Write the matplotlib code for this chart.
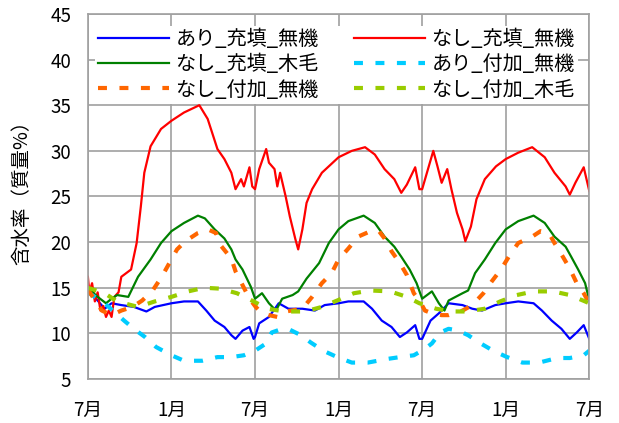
import matplotlib.pyplot as plt

plt.rcParams['font.family'] = ['Noto Sans CJK JP', 'DejaVu Sans']

# months elapsed since the first July, read per series
blue_m = [0, 0.7, 1.2, 1.7, 2.4, 3.3, 4.2, 4.8, 6, 6.9, 7.9, 8.5, 9.1, 9.8, 10.3, 10.6, 11.1, 11.6, 11.9, 12.0,
          12.3, 13.0, 13.7, 14.4, 15.4, 16.3, 17.0, 18.0, 18.7, 19.8, 20.4, 21.1, 21.8, 22.4, 22.9, 23.5, 23.8,
          24.0, 24.6, 25.2, 25.9, 26.9, 27.6, 28.3, 29.25, 30, 30.9, 32, 32.6, 33.3, 34, 34.6, 35.1, 35.6, 36]
blue_v = [14.7, 13.6, 12.7, 13.3, 13.1, 12.9, 12.4, 12.9, 13.3, 13.5, 13.5, 12.5, 11.4, 10.7, 9.8, 9.4, 10.3, 10.7, 9.4, 9.6,
          11.1, 11.8, 13.3, 12.7, 12.7, 12.5, 13.1, 13.3, 13.5, 13.5, 12.7, 11.4, 10.7, 9.6, 10.1, 10.9, 9.4,
          9.4, 11.4, 12.2, 13.3, 13.1, 12.7, 12.5, 13.1, 13.3, 13.5, 13.3, 12.5, 11.4, 10.5, 9.4, 10.1, 10.9, 9.4]

red_m = [0, 0.1, 0.3, 0.5, 0.7, 0.9, 1.1, 1.3, 1.5, 1.7, 1.9, 2.2, 2.4, 3.1, 3.5, 3.8, 4.05, 4.5, 5.25, 6, 6.9, 8.0,
         8.6, 9.3, 9.8, 10.3, 10.6, 11.0, 11.2, 11.6, 11.8, 12.0, 12.3, 12.8, 13.0, 13.4, 13.6, 13.8, 14.2,
         14.5, 14.9, 15.1, 15.4, 15.7, 16.1, 16.8, 18.0, 18.95, 19.9, 20.6, 21.3, 22.0, 22.5, 22.9, 23.5,
         23.8, 24.0, 24.8, 25.1, 25.4, 25.8, 26.1, 26.5, 26.9, 27.1, 27.5, 27.9, 28.5, 29.3, 30, 30.9, 31.9,
         32.8, 33.5, 34.3, 34.6, 35.0, 35.6, 36]
red_v = [16.2, 14.5, 15.5, 13.5, 14.5, 12.5, 13.0, 11.8, 12.5, 11.8, 14.0, 14.5, 16.2, 17.0, 19.9, 23.9, 27.6, 30.5,
         32.4, 33.3, 34.2, 35.0, 33.5, 30.2, 29.1, 27.6, 25.8, 26.9, 26.1, 28.2, 26.1, 25.8, 28.0, 30.2, 28.7,
         28.0, 26.1, 27.6, 25.0, 22.8, 20.3, 19.2, 21.4, 24.3, 25.8, 27.6, 29.3, 30.0, 30.4, 29.6, 28.0, 26.9,
         25.4, 26.3, 28.2, 25.8, 25.8, 30.0, 28.3, 26.5, 28.0, 25.8, 23.2, 21.4, 20.1, 21.7, 24.7, 26.9, 28.3,
         29.1, 29.8, 30.4, 29.3, 27.6, 26.1, 25.2, 26.5, 28.2, 25.6]

green_m = [0, 0.7, 1.3, 1.7, 2.1, 2.9, 3.6, 4.5, 5.25, 6, 6.9, 7.9, 8.4, 9.1, 9.8, 10.3, 10.6, 11.1, 11.7, 12,
           12.5, 13, 13.5, 13.95, 14.7, 15.1, 15.7, 16.6, 17.3, 18, 18.7, 19.8, 20.6, 21.3, 22.0, 22.5, 23.1,
           23.6, 24, 24.7, 25.2, 25.6, 25.9, 26.9, 27.3, 27.8, 28.5, 29.25, 30, 30.9, 32, 32.8, 33.5, 34.3,
           34.7, 35.2, 35.7, 36]
green_v = [15.0, 14.0, 13.3, 13.8, 14.2, 14.0, 16.2, 18.1, 19.9, 21.2, 22.1, 22.9, 22.6, 21.4, 20.4, 19.2, 18.1, 17.0,
           15.1, 13.8, 14.4, 13.3, 12.5, 13.8, 14.2, 14.6, 16.0, 17.7, 19.9, 21.4, 22.3, 22.9, 22.1, 20.6, 19.5,
           18.4, 17.0, 15.5, 13.8, 14.6, 13.3, 12.5, 13.6, 14.4, 14.7, 16.6, 18.1, 19.9, 21.4, 22.3, 22.9, 22.1,
           20.6, 19.5, 18.4, 17.0, 15.5, 13.6]

cyan_m = [0, 1.2, 2.6, 3.3, 4.1, 4.9, 6, 6.9, 8.2, 9.3, 10.3, 11.2, 12, 12.8, 13.2, 13.95, 14.5, 15.3, 16.0, 16.9,
          17.9, 18.95, 20.1, 21.5, 22.4, 23.4, 24.2, 24.7, 25.3, 25.9, 26.6, 27.3, 28.2, 29.1, 30.1, 31.2,
          32.4, 33.7, 34.6, 35.6, 36]
cyan_v = [14.5, 13.3, 11.4, 10.5, 9.6, 8.5, 7.6, 7.0, 7.0, 7.4, 7.4, 7.6, 8.1, 8.9, 10.1, 10.5, 10.4, 9.8, 9.0, 8.1,
          7.4, 6.8, 6.8, 7.2, 7.4, 7.6, 8.3, 8.9, 10.1, 10.5, 10.3, 9.8, 8.9, 8.1, 7.4, 6.8,
          6.8, 7.3, 7.3, 7.6, 8.1]

orange_m = [0, 1, 1.7, 2.4, 3.2, 3.9, 4.65, 5.3, 5.85, 6.4, 7.0, 7.9, 8.6, 9.2, 9.5, 10.3, 10.6, 11.1, 11.6, 12.05,
            12.5, 13, 13.6, 14.2, 15.4, 16.1, 16.8, 17.5, 18, 18.7, 19.4, 20.3, 20.9, 21.3, 21.8, 22.4, 22.9,
            23.4, 23.8, 24.2, 24.7, 25.4, 25.9, 26.9, 27.6, 28.4, 29, 29.7, 30.3, 30.9, 31.9, 32.5, 33.1,
            33.5, 34.1, 34.6, 35.1, 35.6, 36]
orange_v = [14.8, 12.5, 12.0, 12.5, 12.9, 13.6, 14.7, 16.2, 17.7, 19.2, 20.1, 21.0, 21.4, 21.0, 19.7, 18.2, 16.8, 15.3,
            13.8, 12.9, 12.2, 12.0, 11.8, 12.4, 12.7, 14.0, 15.5, 16.6, 18.1, 19.3, 20.6, 21.2, 21.2, 20.4, 19.0,
            17.7, 16.4, 14.4, 13.6, 12.5, 12.2, 12.0, 12.0, 12.5, 13.1, 14.4, 15.7, 17.1, 18.6, 19.9, 20.6,
            21.2, 21.0, 19.9, 18.4, 17.1, 15.5, 14.4, 13.3]

lime_m = [0, 1.2, 2.1, 3.6, 4.8, 6, 7.2, 8.35, 9.5, 10.7, 11.5, 11.9, 12.9, 14.1, 15.6, 16.8, 17.9, 19.1, 20.3,
          21.7, 22.9, 23.8, 25, 26.1, 27.2, 28.5, 29.6, 30.8, 32, 33.4, 34.6, 35.7, 36]
lime_v = [15.0, 14.4, 13.5, 12.9, 13.5, 14.0, 14.6, 15.0, 14.9, 14.4, 13.8, 13.5, 12.7, 12.4, 12.4, 12.9, 13.6, 14.4,
          14.7, 14.6, 14.0, 13.3, 12.7, 12.4, 12.4, 12.7, 13.5, 14.2, 14.6, 14.6, 14.2, 13.5, 13.3]

tick_pos = [0, 6, 12, 18, 24, 30, 36]
tick_labels = ['7月', '1月', '7月', '1月', '7月', '1月', '7月']

fig = plt.figure(figsize=(6.19, 4.23), dpi=100)
ax = fig.add_axes([0.142, 0.104, 0.81, 0.863])

dash = (0, (2.15, 3.0))
l_blue, = ax.plot(blue_m, blue_v, color='#0000FF', lw=1.6, label='あり_充填_無機')
l_red, = ax.plot(red_m, red_v, color='#FF0000', lw=1.6, label='なし_充填_無機')
l_green, = ax.plot(green_m, green_v, color='#008000', lw=1.6, label='なし_充填_木毛')
l_cyan, = ax.plot(cyan_m, cyan_v, color='#00CCFF', lw=3, ls=dash, label='あり_付加_無機')
l_orange, = ax.plot(orange_m, orange_v, color='#FF6600', lw=3, ls=dash, label='なし_付加_無機')
l_lime, = ax.plot(lime_m, lime_v, color='#99CC00', lw=3, ls=dash, label='なし_付加_木毛')

ax.set_xlim(0, 36)
ax.set_ylim(5, 45)
ax.set_yticks(range(5, 50, 5))
ax.set_xticks(tick_pos)
ax.set_xticklabels(tick_labels)
ax.tick_params(axis='both', length=0, labelsize=13.5)
ax.tick_params(axis='x', pad=15)
ax.tick_params(axis='y', pad=12)
ax.grid(True, color='#a0a0a0', lw=1.2)
ax.set_axisbelow(True)
for sp in ax.spines.values():
    sp.set_color('#a0a0a0')
    sp.set_linewidth(1.2)

ax.set_ylabel('含水率（質量%）', fontsize=14)
ax.yaxis.set_label_coords(-0.11, 0.525)

leg = ax.legend(handles=[l_blue, l_green, l_orange, l_red, l_cyan, l_lime], ncol=2,
                loc='upper left', bbox_to_anchor=(0.014, 0.968), borderaxespad=0,
                frameon=True, framealpha=1, edgecolor='none', facecolor='white',
                fontsize=14.5, handlelength=3.55, handletextpad=0.3, columnspacing=1.75,
                labelspacing=0.22, borderpad=0.15)
leg.get_frame().set_boxstyle('square', pad=0)

fig.savefig('out.png', dpi=100)
